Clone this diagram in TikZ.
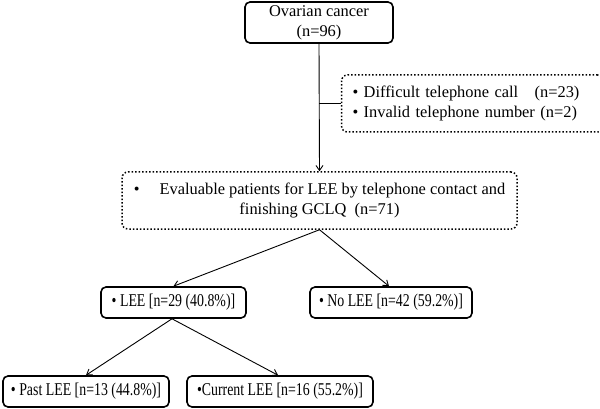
\documentclass[tikz,border=0pt]{standalone}
\usepackage{fontspec}
\usepackage{graphicx}
\setmainfont{Liberation Serif}
\usetikzlibrary{arrows.meta}
\newcommand{\narrow}[1]{\scalebox{0.77}[1]{#1}}
\begin{document}
\begin{tikzpicture}[x=1pt,y=-1pt,
  every node/.style={font=\fontsize{16.4}{20}\selectfont},
  small/.style={font=\fontsize{18}{20}\selectfont},
  solidbox/.style={draw, line width=1.6pt, rounded corners=5pt, inner sep=0pt, align=center},
  dotbox/.style={draw, line width=1.5pt, dotted, rounded corners=6pt, inner sep=0pt},
  conn/.style={line width=0.9pt},
  arr/.style={conn, -{Straight Barb[length=5pt,width=7pt,line width=0.9pt]}}]
\useasboundingbox (0,0) rectangle (600,409);
\node[solidbox, minimum width=148pt, minimum height=41pt] (top) at (319,22.5) {Ovarian cancer\\(n=96)};
\node[dotbox, minimum width=251pt, minimum height=57pt, align=left, text width=240pt, inner xsep=11pt] (excl) at (472.5,103.5)
  {\textbullet\ Difficult telephone call \ \ (n=23)\\\textbullet\ Invalid telephone number (n=2)};
\node[dotbox, minimum width=395pt, minimum height=57pt, align=center] (eval) at (319.5,200.5)
  {\textbullet\hspace{20pt}Evaluable patients for LEE by telephone contact and\\finishing GCLQ \ (n=71)};
\node[solidbox, small, minimum width=145pt, minimum height=31pt] (lee) at (173.5,302.5) {\narrow{\textbullet\ LEE [n=29 (40.8\%)]}};
\node[solidbox, small, minimum width=162pt, minimum height=31pt] (nolee) at (391,302.5) {\narrow{\textbullet\ No LEE [n=42 (59.2\%)]}};
\node[solidbox, small, minimum width=166pt, minimum height=31pt] (past) at (86,391.5) {\narrow{\textbullet\ Past LEE [n=13 (44.8\%)]}};
\node[solidbox, small, minimum width=186pt, minimum height=31pt] (curr) at (280,391.5) {\narrow{\textbullet Current LEE [n=16 (55.2\%)]}};
\coordinate (j) at (top.south |- excl.west);
\draw[arr] (top.south) -- (eval.north);
\draw[conn] (j) -- (excl.west);
\draw[arr] (eval.south) -- (lee.north);
\draw[arr] (eval.south) -- ([xshift=-2pt]nolee.north);
\draw[arr] ([xshift=-1.5pt]lee.south) -- (past.north);
\draw[arr] ([xshift=-1.5pt]lee.south) -- ([xshift=-2pt]curr.north);
\end{tikzpicture}
\end{document}
